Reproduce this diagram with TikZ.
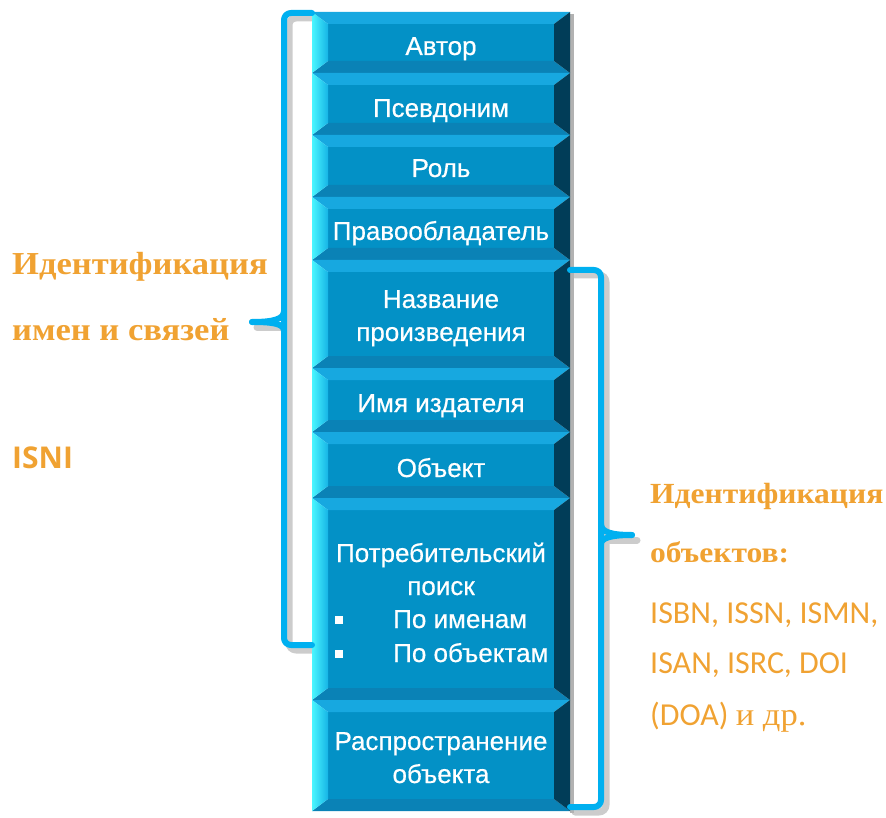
\documentclass[tikz,border=0pt]{standalone}
\usepackage{fontspec}
\setmainfont{Liberation Sans}
\newfontfamily\boxfont[FakeBold=0.5]{Liberation Sans}
\newfontfamily\lblserif[FakeStretch=1.08]{Liberation Serif}
\newfontfamily\lblsans{Carlito}
\newfontfamily\lblsansbold{Open Sans}
\definecolor{facec}{HTML}{0391C6}
\definecolor{topbev}{HTML}{17A8E0}
\definecolor{botbev}{HTML}{0A82B6}
\definecolor{leftL}{HTML}{4AF6FF}
\definecolor{leftR}{HTML}{16B4E6}
\definecolor{rightc}{HTML}{013D58}
\definecolor{brkblue}{HTML}{00B0F0}
\definecolor{orng}{HTML}{F0A232}
\newcommand\bevbox[2]{%
  \fill[facec] (328,#1+12) rectangle (554,#2-12);
  \fill[topbev] (312,#1) -- (570,#1) -- (554,#1+12) -- (328,#1+12) -- cycle;
  \fill[botbev] (312,#2) -- (570,#2) -- (554,#2-12) -- (328,#2-12) -- cycle;
  \shade[left color=leftL, right color=leftR] (312,#1) -- (328,#1+12) -- (328,#2-12) -- (312,#2) -- cycle;
  \fill[rightc] (570,#1) -- (554,#1+12) -- (554,#2-12) -- (570,#2) -- cycle;
}
\begin{document}
\begin{tikzpicture}[x=1pt,y=-1pt,
  boxtxt/.style={text=white, font=\boxfont\fontsize{26}{30}\selectfont, anchor=base, inner sep=0pt},
  orbold/.style={text=orng, font=\lblserif\bfseries\fontsize{32}{36}\selectfont, anchor=base west, inner sep=0pt},
  orboldsm/.style={orbold, font=\lblserif\bfseries\fontsize{29.2}{34}\selectfont},
  orsans/.style={text=orng, font=\lblsans\fontsize{32}{36}\selectfont, anchor=base west, inner sep=0pt},
  brk/.style={draw=brkblue, line width=6pt, line cap=round, line join=round, rounded corners=7pt},
  brkshadow/.style={draw=black!20, line width=7pt, line cap=round, line join=round, rounded corners=7pt},
  bullet/.style={fill=white, minimum size=8pt, inner sep=0pt}]
\useasboundingbox (0,0) rectangle (886,818);
% bracket shadows
\begin{scope}[shift={(5,5)}]
\draw[brkshadow] (312,13) -- (284,13) -- (284,645) -- (312,645);
\draw[brkshadow] (252,322) -- (280,322);
\draw[brkshadow] (570,270) -- (601,270) -- (601,807) -- (570,807);
\draw[brkshadow] (605,535) -- (632,535);
\end{scope}
% column shadow
\fill[black!30] (570,14) rectangle (574,813);
% boxes
\bevbox{12}{73}
\bevbox{73}{135}
\bevbox{135}{197}
\bevbox{197}{260}
\bevbox{260}{368}
\bevbox{368}{432}
\bevbox{432}{498}
\bevbox{498}{700}
\bevbox{700}{811}
% box texts
\node[boxtxt] (t1) at (441,55) {Автор};
\node[boxtxt] (t2) at (441,117) {Псевдоним};
\node[boxtxt] (t3) at (441,177) {Роль};
\node[boxtxt] (t4) at (441,240) {Правообладатель};
\node[boxtxt] (t5a) at (441,308) {Название};
\node[boxtxt] (t5b) at (441,341) {произведения};
\node[boxtxt] (t6) at (441,412) {Имя издателя};
\node[boxtxt] (t7) at (441,477) {Объект};
\node[boxtxt] (t8a) at (441,562) {Потребительский};
\node[boxtxt] (t8b) at (441,595) {поиск};
\node[boxtxt, anchor=base west] (t8c) at (393,628) {По именам};
\node[boxtxt, anchor=base west] (t8d) at (393,662) {По объектам};
\node[bullet] (b1) at (339,620) {};
\node[bullet] (b2) at (339,654) {};
\node[boxtxt] (t9a) at (441,750) {Распространение};
\node[boxtxt] (t9b) at (441,783) {объекта};
% brackets
\draw[brk] (312,13) -- (284,13) -- (284,645) -- (312,645);
\draw[brk, rounded corners=0pt] (284,311) .. controls (284,319) and (274,322) .. (252,322);
\draw[brk, rounded corners=0pt] (284,331) .. controls (284,324) and (274,322) .. (252,322);
\draw[brk] (570,270) -- (601,270) -- (601,807) -- (570,807);
\draw[brk, rounded corners=0pt] (601,524) .. controls (601,532) and (611,535) .. (632,535);
\draw[brk, rounded corners=0pt] (601,544) .. controls (601,538) and (611,535) .. (632,535);
% left labels
\node[orbold] (l1) at (12,275) {Идентификация};
\node[orbold] (l2) at (12,340) {имен и связей};
\node[orsans, font=\lblsansbold\bfseries\fontsize{30}{36}\selectfont] (l3) at (12,468) {ISNI};
% right labels
\node[orboldsm] (r1) at (650,503) {Идентификация};
\node[orboldsm] (r2) at (650,562) {объектов:};
\node[orsans] (r3) at (650,623) {ISBN, ISSN, ISMN,};
\node[orsans] (r4) at (650,673) {ISAN, ISRC, DOI};
\node[orsans] (r5) at (650,725) {(DOA) {\lblserif и др.}};
\end{tikzpicture}
\end{document}
